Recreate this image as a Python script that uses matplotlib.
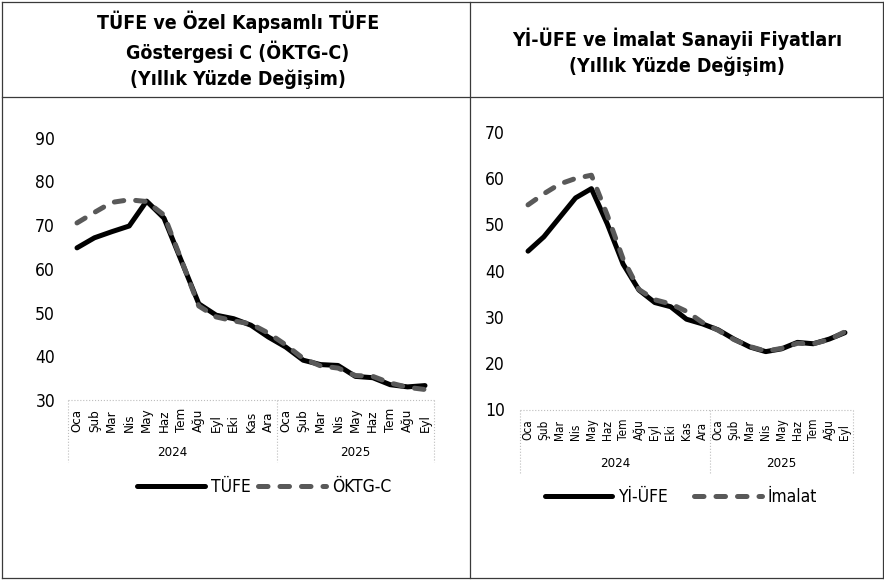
import matplotlib
matplotlib.use("Agg")
import matplotlib.pyplot as plt
from matplotlib.lines import Line2D

plt.rcParams['font.family'] = ['DejaVu Sans']
plt.rcParams['font.stretch'] = 'condensed'

# Veriler (yıllık % değişim)
aylar = ["Oca", "Şub", "Mar", "Nis", "May", "Haz", "Tem", "Ağu", "Eyl", "Eki", "Kas", "Ara",
         "Oca", "Şub", "Mar", "Nis", "May", "Haz", "Tem", "Ağu", "Eyl"]
yillar = ["2024", "2025"]
yil_ay_sayisi = [12, 9]

tufe = [64.8, 67.1, 68.5, 69.8, 75.5, 71.6, 61.8, 52.0, 49.4, 48.6, 47.1, 44.4,
        42.1, 39.1, 38.1, 37.9, 35.4, 35.1, 33.5, 33.0, 33.3]
oktg_c = [70.5, 72.9, 75.2, 75.8, 75.4, 72.3, 62.0, 51.5, 49.0, 48.1, 47.4, 45.3,
          42.6, 39.5, 37.8, 37.3, 35.6, 35.4, 33.9, 32.9, 32.4]
yi_ufe = [44.2, 47.3, 51.5, 55.7, 57.7, 50.1, 41.4, 35.8, 33.1, 32.2, 29.5, 28.5,
          27.2, 25.2, 23.5, 22.5, 23.1, 24.5, 24.2, 25.2, 26.6]
imalat = [54.2, 56.6, 58.7, 59.9, 60.6, 52.0, 42.5, 35.9, 33.7, 32.8, 31.2, 28.8,
          27.1, 25.1, 23.6, 22.6, 23.2, 24.3, 24.2, 25.1, 26.8]

W, H = 884, 580
fig = plt.figure(figsize=(W / 100, H / 100), dpi=100)

KOYU = '#595959'


def eksen_olustur(x0, x1, y_ust, y_alt):
    # piksel kutusundan eksen olustur
    return fig.add_axes([x0 / W, 1 - y_alt / H, (x1 - x0) / W, (y_alt - y_ust) / H])


def grafik(ax, seri1, seri2, ad1, ad2, ylim, ypad, yfs, ay_fs, yil_fs, ay_alt, yil_y,
           cizgi_alt, leg_xy, colsp):
    n = len(aylar)
    x = list(range(n))
    ax.plot(x, seri1, color='black', lw=3.6, solid_capstyle='round',
            solid_joinstyle='round', label=ad1, zorder=3)
    ax.plot(x, seri2, color=KOYU, lw=3.6, ls=(0, (1.9, 2.4)), dash_capstyle='round',
            label=ad2, zorder=4)
    ax.set_xlim(-0.5, n - 0.5)
    ax.set_ylim(*ylim)
    ax.set_yticks(range(ylim[0], ylim[1] + 1, 10))
    ax.tick_params(axis='y', length=0, pad=ypad, labelsize=yfs)
    ax.set_xticks([])
    for s in ax.spines.values():
        s.set_visible(False)

    # cok seviyeli kategori ekseni
    h_px = ax.get_position().height * H
    tr = ax.get_xaxis_transform()
    ax.plot([-0.5, n - 0.5], [0, 0], transform=tr, color='#bdbdbd', lw=0.8,
            ls=':', clip_on=False)
    sinirlar = [-0.5]
    for k in yil_ay_sayisi:
        sinirlar.append(sinirlar[-1] + k)
    for s in sinirlar:
        ax.plot([s, s], [0, -cizgi_alt / h_px], transform=tr, color='#bdbdbd',
                lw=0.8, ls=':', clip_on=False)
    for i, ay in enumerate(aylar):
        ax.text(i, -ay_alt / h_px, ay, transform=tr, rotation=90, ha='center',
                va='bottom', fontsize=ay_fs)
    for yil, a, b in zip(yillar, sinirlar[:-1], sinirlar[1:]):
        ax.text((a + b) / 2, -yil_y / h_px, yil, transform=tr, ha='center',
                va='center', fontsize=yil_fs)

    ax.legend(loc='center', bbox_to_anchor=(leg_xy[0] / W, 1 - leg_xy[1] / H),
              bbox_transform=fig.transFigure, ncol=2, frameon=False, fontsize=12.5,
              handlelength=3.9, handletextpad=0.35, columnspacing=colsp)


ax1 = eksen_olustur(68.3, 433.7, 137.7, 400)
grafik(ax1, tufe, oktg_c, 'TÜFE', 'ÖKTG-C', (30, 90), 9.5, 12.5, 9.5, 9.5, 32, 53, 62,
       (264, 487), 0.45)

ax2 = eksen_olustur(520.1, 852.9, 131.7, 409.5)
grafik(ax2, yi_ufe, imalat, 'Yİ-ÜFE', 'İmalat', (10, 70), 11, 12.5, 8.5, 9.5, 31, 54, 63,
       (681, 497), 1.5)

# basliklar
fig.text(238 / W, 1 - 50 / H, 'TÜFE ve Özel Kapsamlı TÜFE\nGöstergesi C (ÖKTG-C)\n(Yıllık Yüzde Değişim)',
         ha='center', va='center', fontsize=14, fontweight='bold', linespacing=1.42)
fig.text(677 / W, 1 - 52 / H, 'Yİ-ÜFE ve İmalat Sanayii Fiyatları\n(Yıllık Yüzde Değişim)',
         ha='center', va='center', fontsize=14, fontweight='bold', linespacing=1.45)

# tablo cerceveleri
cerceve = [([1.5, 882.5], [1.5, 1.5]), ([1.5, 882.5], [97, 97]),
           ([1.5, 882.5], [578, 578]), ([1.5, 1.5], [1.5, 578]),
           ([882.5, 882.5], [1.5, 578]), ([470, 470], [1.5, 578])]
for xs, ys in cerceve:
    fig.add_artist(Line2D([v / W for v in xs], [1 - v / H for v in ys],
                          transform=fig.transFigure, color='#3a3a3a', lw=0.9))

fig.savefig('out.png', dpi=100)
